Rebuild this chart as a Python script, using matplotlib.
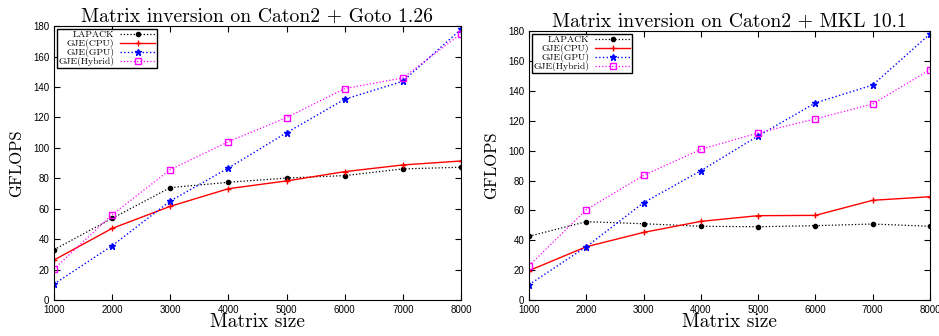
import matplotlib.pyplot as plt

# matrix sizes on the x axis
sizes = [1000, 2000, 3000, 4000, 5000, 6000, 7000, 8000]

# left panel: Caton2 + Goto 1.26
goto_lapack = [33.1, 53.7, 73.9, 77.4, 80.2, 81.8, 86.2, 87.3]
goto_cpu = [26.3, 47.1, 61.6, 73.2, 78.3, 84.4, 88.8, 91.4]
goto_gpu = [10.5, 35.7, 65.1, 86.8, 110.0, 132.0, 143.8, 178.0]
goto_hybrid = [20.4, 56.1, 85.7, 104.1, 119.9, 139.0, 146.0, 175.0]

# right panel: Caton2 + MKL 10.1
mkl_lapack = [42.7, 52.5, 51.1, 49.4, 49.1, 49.8, 50.9, 49.4]
mkl_cpu = [19.7, 35.7, 45.3, 52.7, 56.5, 56.7, 66.8, 69.2]
mkl_gpu = [10.3, 35.7, 65.2, 86.6, 109.9, 132.0, 144.0, 178.2]
mkl_hybrid = [23.0, 60.5, 83.5, 100.9, 111.9, 121.3, 131.3, 154.3]

titles = ["Matrix inversion on Caton2 + Goto 1.26",
          "Matrix inversion on Caton2 + MKL 10.1"]
labels = ["LAPACK", "GJE(CPU)", "GJE(GPU)", "GJE(Hybrid)"]

# latex-ish look for the text, helvetica-ish for the tick numbers
serif = ["cmr10", "DejaVu Serif"]
sans = ["Liberation Sans"]

fig = plt.figure(figsize=(9.39, 3.36), dpi=100)
ax1 = fig.add_axes([0.0575, 0.107, 0.4334, 0.815])
ax2 = fig.add_axes([0.5634, 0.107, 0.427, 0.80])

panels = [
    (ax1, [goto_lapack, goto_cpu, goto_gpu, goto_hybrid], titles[0]),
    (ax2, [mkl_lapack, mkl_cpu, mkl_gpu, mkl_hybrid], titles[1]),
]

for ax, series, title in panels:
    lapack, cpu, gpu, hybrid = series
    ax.plot(sizes, lapack, color="black", linestyle=":", linewidth=0.9,
            marker="o", markersize=3, label=labels[0])
    ax.plot(sizes, cpu, color="red", linestyle="-", linewidth=1.0,
            marker="+", markersize=4, label=labels[1])
    ax.plot(sizes, gpu, color="blue", linestyle=":", linewidth=1.0,
            marker="*", markersize=4.5, label=labels[2])
    ax.plot(sizes, hybrid, color="magenta", linestyle=":", linewidth=0.9,
            marker="s", markersize=4, fillstyle="none", markeredgewidth=1.0,
            label=labels[3])

    ax.set_xlim(1000, 8000)
    ax.set_ylim(0, 180)
    ax.set_xticks(sizes)
    ax.set_yticks(range(0, 181, 20))
    ax.tick_params(direction="in", top=True, right=True, length=4,
                   labelsize=7)
    for lab in ax.get_xticklabels() + ax.get_yticklabels():
        lab.set_family(sans)
    ax.set_title(title, family=serif, fontsize=14.2, pad=3)
    ax.set_xlabel("Matrix size", family=serif, fontsize=14, labelpad=-1)
    ax.set_ylabel("GFLOPS", family=serif, fontsize=12, labelpad=6)

    leg = ax.legend(loc="upper left", markerfirst=False, fancybox=False,
                    edgecolor="black", framealpha=1, borderpad=0.15,
                    labelspacing=0.0, handlelength=3.6, handletextpad=0.6,
                    borderaxespad=0.3, prop={"family": serif, "size": 7})
    leg.get_frame().set_linewidth(1.0)
    for t in leg.get_texts():
        t.set_horizontalalignment("right")

fig.savefig("out.png", dpi=100)
